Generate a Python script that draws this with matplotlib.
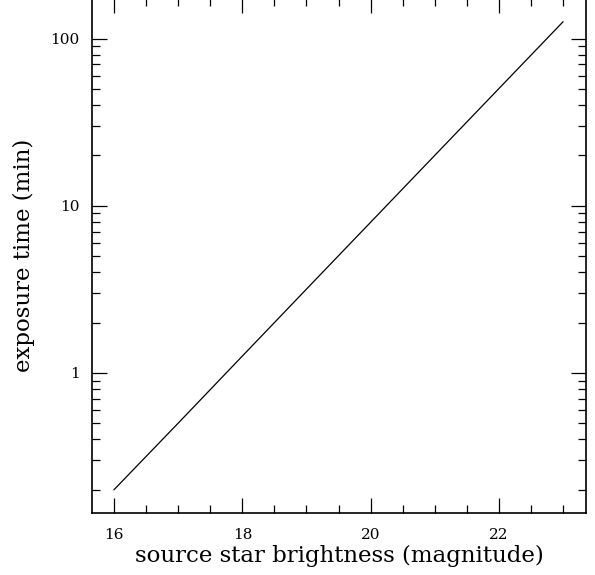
import matplotlib
matplotlib.use("Agg")
import matplotlib.pyplot as plt
from matplotlib.ticker import MultipleLocator, LogLocator, NullFormatter, FixedLocator, FixedFormatter

# exposure time needed vs. source magnitude
magnitude = [16, 17, 18, 19, 20, 21, 22, 23]
exposure_min = [0.2, 0.50, 1.26, 3.17, 7.96, 20.0, 50.2, 126.0]

plt.rcParams['font.family'] = ['DejaVu Serif']

fig = plt.figure(figsize=(5.95, 5.75), dpi=100)
ax = fig.add_axes([0.1546, 0.1078, 0.8304, 0.8957])

ax.plot(magnitude, exposure_min, color='black', lw=0.9)

ax.set_yscale('log')
ax.set_xlim(15.656, 23.36)
ax.set_ylim(0.145, 175)

ax.xaxis.set_major_locator(MultipleLocator(2))
ax.xaxis.set_minor_locator(MultipleLocator(0.5))
ax.yaxis.set_major_locator(FixedLocator([1, 10, 100]))
ax.yaxis.set_major_formatter(FixedFormatter(['1', '10', '100']))
ax.yaxis.set_minor_locator(LogLocator(base=10, subs=range(2, 10)))
ax.yaxis.set_minor_formatter(NullFormatter())

ax.tick_params(which='both', direction='in', top=True, right=True, width=0.9, labelsize=11)
ax.tick_params(which='major', length=11)
ax.tick_params(which='minor', length=5.5)
ax.tick_params(axis='x', pad=11)
ax.tick_params(axis='y', pad=9)

for s in ax.spines.values():
    s.set_linewidth(1.2)

ax.set_xlabel('source star brightness (magnitude)', fontsize=16.5, labelpad=2)
ax.set_ylabel('exposure time (min)', fontsize=16.5, labelpad=11)

fig.savefig('out.png', dpi=100)
